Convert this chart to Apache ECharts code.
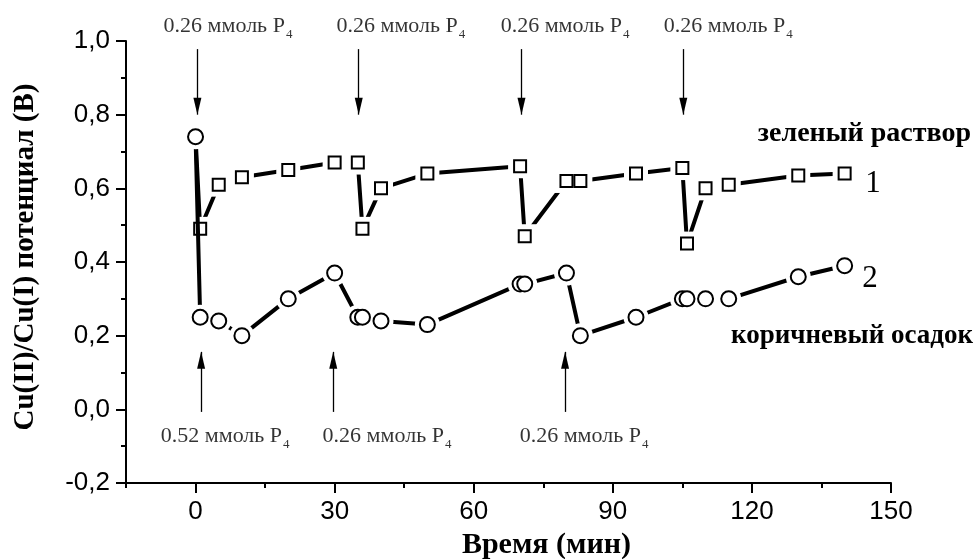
<!DOCTYPE html>
<html><head><meta charset="utf-8">
<script src="https://cdn.jsdelivr.net/npm/echarts@6/dist/echarts.min.js"></script>
<style>html,body{margin:0;padding:0;background:#fff}#c{width:976px;height:559px}</style>
</head><body><div id="c"></div>
<script>
// ---- data ----
const timeGreen = [0, 1, 5, 10, 20, 30, 35, 36, 40, 50, 70, 71, 80, 83, 95, 105, 106, 110, 115, 130, 140];
const potGreen  = [0.74, 0.49, 0.61, 0.63, 0.65, 0.67, 0.67, 0.49, 0.60, 0.64, 0.66, 0.47, 0.62, 0.62, 0.64, 0.655, 0.45, 0.60, 0.61, 0.635, 0.64];
const timeBrown = [0, 1, 5, 10, 20, 30, 35, 36, 40, 50, 70, 71, 80, 83, 95, 105, 106, 110, 115, 130, 140];
const potBrown  = [0.74, 0.25, 0.24, 0.20, 0.30, 0.37, 0.25, 0.25, 0.24, 0.23, 0.34, 0.34, 0.37, 0.20, 0.25, 0.30, 0.30, 0.30, 0.30, 0.36, 0.39];
const xTickValues  = [0, 30, 60, 90, 120, 150];
const xMinorValues = [-15, 15, 45, 75, 105, 135];
// additions of P4 (arrows): times and arrow extent in volts
const topArrowTimes    = [0.4, 35.2, 70.3, 105.2];
const topArrowRange    = [0.978, 0.80];
const bottomArrowTimes = [1.2, 29.7, 79.7];
const bottomArrowRange = [-0.007, 0.156];
const topLabelTexts    = ['0.26 ммоль P', '0.26 ммоль P', '0.26 ммоль P', '0.26 ммоль P'];
const topLabelTimes    = [-7.0, 30.3, 65.7, 100.9];
const topLabelLevel    = 1.039;
const bottomLabelTexts = ['0.52 ммоль P', '0.26 ммоль P', '0.26 ммоль P'];
const bottomLabelTimes = [-7.6, 27.3, 69.8];
const bottomLabelLevel = -0.074;

const serif = '"Liberation Serif", "Times New Roman", serif';
const sans = '"Liberation Sans", Arial, sans-serif';

const greenData = timeGreen.map((t, i) => [t, potGreen[i]]);
const brownData = timeBrown.map((t, i) => [t, potBrown[i]]);

const annData = topLabelTexts.map((s, i) => ({ value: [topLabelTimes[i], topLabelLevel], name: s }))
  .concat(bottomLabelTexts.map((s, i) => ({ value: [bottomLabelTimes[i], bottomLabelLevel], name: s })));

const arrowHead = { symbol: 'path://M0,0 L4,17 L-4,17 Z', symbolSize: [8, 17], symbolOffset: [0, 8.5] };
const arrowLines = topArrowTimes.map(t => [
  { coord: [t, topArrowRange[0]], symbol: 'none' },
  Object.assign({ coord: [t, topArrowRange[1]] }, arrowHead)
]).concat(bottomArrowTimes.map(t => [
  { coord: [t, bottomArrowRange[0]], symbol: 'none' },
  Object.assign({ coord: [t, bottomArrowRange[1]] }, arrowHead)
]));

const chart = echarts.init(document.getElementById('c'), null, { renderer: 'canvas' });

function lineSeries(data, z) {
  return { type: 'line', data, z, symbol: 'none', showSymbol: false, silent: true,
    lineStyle: { color: '#000', width: 4 } };
}
function maskSeries(data, symbol, size, z) {
  return { type: 'scatter', data, z, symbol, symbolSize: size, silent: true,
    itemStyle: { color: '#fff', opacity: 1 } };
}
function symSeries(data, symbol, size, z) {
  return { type: 'scatter', data, z, symbol, symbolSize: size, silent: true,
    itemStyle: { color: '#fff', borderColor: '#000', borderWidth: 2, opacity: 1 } };
}

chart.setOption({
  animation: false,
  backgroundColor: '#fff',
  grid: { left: 126, right: 85, top: 41, bottom: 76, containLabel: false, outerBoundsMode: 'none' },
  xAxis: [{
    type: 'value', min: -15, max: 150,
    name: 'Время (мин)', nameLocation: 'middle', nameGap: 43,
    nameTextStyle: { fontFamily: serif, fontWeight: 'bold', fontSize: 30, color: '#000', padding: [0, 0, 0, 76] },
    axisLine: { show: true, onZero: false, lineStyle: { color: '#000', width: 2 } },
    axisTick: { show: true, customValues: xTickValues, length: 10, lineStyle: { color: '#000', width: 2 } },
    axisLabel: { customValues: xTickValues, margin: 16, fontFamily: sans, fontSize: 26, color: '#000' },
    splitLine: { show: false }
  }, {
    type: 'value', min: -15, max: 150, position: 'bottom',
    axisLine: { show: false, onZero: false },
    axisTick: { show: true, customValues: xMinorValues, length: 5, lineStyle: { color: '#000', width: 2 } },
    axisLabel: { show: false },
    splitLine: { show: false }
  }],
  yAxis: {
    type: 'value', min: -0.2, max: 1.0, interval: 0.2,
    name: 'Cu(II)/Cu(I) потенциал (В)', nameLocation: 'middle', nameGap: 86,
    nameTextStyle: { fontFamily: serif, fontWeight: 'bold', fontSize: 29, color: '#000', padding: [0, 0, 0, 10] },
    axisLine: { show: true, onZero: false, lineStyle: { color: '#000', width: 2 } },
    axisTick: { show: true, length: 10, lineStyle: { color: '#000', width: 2 } },
    minorTick: { show: true, splitNumber: 2, length: 5, lineStyle: { color: '#000', width: 2 } },
    axisLabel: { margin: 16, fontFamily: sans, fontSize: 26, color: '#000',
      formatter: v => v.toFixed(1).replace('.', ',') },
    splitLine: { show: false }, minorSplitLine: { show: false }
  },
  series: [
    lineSeries(greenData, 2),
    maskSeries(greenData, 'rect', 24, 3),
    symSeries(greenData, 'rect', 12, 4),
    lineSeries(brownData, 5),
    maskSeries(brownData, 'circle', 25, 6),
    symSeries(brownData, 'circle', 15, 7),
    {
      type: 'scatter', data: annData, z: 8, symbol: 'circle', symbolSize: 1, clip: false, silent: true,
      itemStyle: { color: 'rgba(0,0,0,0)' },
      label: {
        show: true, position: 'right', distance: 0, color: '#000',
        formatter: p => '{a|' + p.name + '}{s|4}',
        rich: {
          a: { fontFamily: serif, fontSize: 22, color: '#000', lineHeight: 28 },
          s: { fontFamily: serif, fontSize: 13, color: '#000', lineHeight: 8, verticalAlign: 'bottom', padding: [0, 0, 0, 1] }
        }
      },
      markLine: {
        silent: true, animation: false, symbol: ['none', 'arrow'],
        label: { show: false },
        lineStyle: { color: '#000', width: 1.3, type: 'solid' },
        emphasis: { disabled: true },
        data: arrowLines
      }
    }
  ],
  graphic: [
    { type: 'text', x: 971, y: 134, style: { text: 'зеленый раствор', fill: '#000', font: 'bold 28px ' + serif, align: 'right', verticalAlign: 'middle' } },
    { type: 'text', x: 973, y: 336, style: { text: 'коричневый осадок', fill: '#000', font: 'bold 27px ' + serif, align: 'right', verticalAlign: 'middle' } },
    { type: 'text', x: 873, y: 184, style: { text: '1', fill: '#000', font: '31px ' + serif, align: 'center', verticalAlign: 'middle' } },
    { type: 'text', x: 870, y: 279, style: { text: '2', fill: '#000', font: '31px ' + serif, align: 'center', verticalAlign: 'middle' } }
  ]
});
</script></body></html>
